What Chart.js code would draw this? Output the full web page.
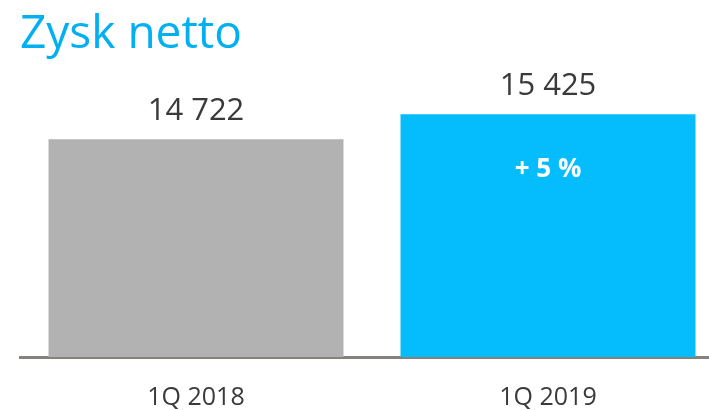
<!DOCTYPE html>
<html>
<head>
<meta charset="utf-8">
<script src="https://cdn.jsdelivr.net/npm/chart.js@4"></script>
<style>
    html, body { margin: 0; padding: 0; background: #fff; overflow: hidden; }
    .chart-wrap { width: 724px; height: 410px; position: relative; }
</style>
</head>
<body>
<div class="chart-wrap">
    <canvas id="profitChart"></canvas>
</div>
<script>
// Data
const titleText = 'Zysk netto';
const quarters = ['1Q 2018', '1Q 2019'];
const netProfit = [14722, 15425];
const valueLabels = ['14 722', '15 425'];
const changeLabels = ['', '+ 5 %'];
const barColors = ['#b2b2b2', '#05bdfd'];

// Draws title, value labels above bars and the change label inside the bar
const labelPlugin = {
    id: 'labelPlugin',
    afterDatasetsDraw(chart) {
        const ctx = chart.ctx;
        const meta = chart.getDatasetMeta(0);
        ctx.save();

        ctx.fillStyle = '#00b0f0';
        ctx.font = '46px "Open Sans"';
        ctx.textAlign = 'left';
        ctx.textBaseline = 'alphabetic';
        ctx.fillText(titleText, 20, 48);

        ctx.textAlign = 'center';
        meta.data.forEach((bar, i) => {
            ctx.fillStyle = '#3a3a3a';
            ctx.font = '31px "Open Sans"';
            ctx.fillText(valueLabels[i], bar.x, bar.y - 19);

            if (changeLabels[i]) {
                ctx.fillStyle = '#ffffff';
                ctx.font = 'bold 26px "Open Sans"';
                ctx.fillText(changeLabels[i], bar.x, bar.y + 63);
            }
        });
        ctx.restore();
    }
};

new Chart(document.getElementById('profitChart'), {
    type: 'bar',
    data: {
        labels: quarters,
        datasets: [{
            data: netProfit,
            backgroundColor: barColors,
            borderWidth: 0,
            categoryPercentage: 1,
            barPercentage: 0.838
        }]
    },
    options: {
        responsive: true,
        maintainAspectRatio: false,
        animation: false,
        layout: { padding: { top: 60, left: 20, right: 0, bottom: 0 } },
        plugins: {
            legend: { display: false },
            tooltip: { enabled: false }
        },
        scales: {
            x: {
                grid: { display: false },
                border: { display: true, color: '#86817c', width: 3 },
                ticks: {
                    color: '#3a3a3a',
                    font: { family: '"Open Sans"', size: 25 },
                    padding: 18
                },
                afterFit: (scale) => { scale.height = 53; }
            },
            y: {
                display: false,
                min: 8600,
                max: 16952
            }
        }
    },
    plugins: [labelPlugin]
});
</script>
</body>
</html>
